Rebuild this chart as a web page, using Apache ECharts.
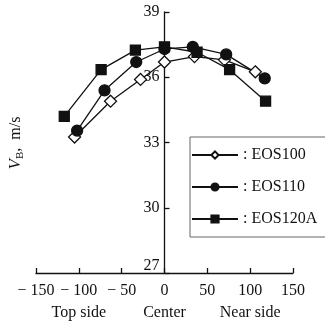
<!DOCTYPE html>
<html><head><meta charset="utf-8">
<script src="https://cdn.jsdelivr.net/npm/echarts@6/dist/echarts.min.js"></script>
<style>html,body{margin:0;padding:0;background:#fff}#c{width:325px;height:321px}</style>
</head><body><div id="c"></div>
<script>
const seriesNames = ['EOS100', 'EOS110', 'EOS120A'];
const eos100X = [-105, -63, -28, 0, 35, 70, 106];
const eos100Y = [33.25, 34.9, 35.9, 36.7, 36.95, 36.8, 36.25];
const eos110X = [-102, -70, -33, 0, 33, 72, 117];
const eos110Y = [33.55, 35.4, 36.7, 37.3, 37.4, 37.05, 35.95];
const eos120X = [-117, -74, -34, 0, 38, 76, 118];
const eos120Y = [34.2, 36.35, 37.25, 37.4, 37.15, 36.35, 34.9];
const sideTicks = [-100, 0, 100];
const sideNames = ['Top side', 'Center', 'Near side'];
const yTicks = [27, 30, 33, 36, 39];

const FONT = 'Liberation Serif';
const pair = (xs, ys) => xs.map((x, i) => [x, ys[i]]);

const chart = echarts.init(document.getElementById('c'), null, {renderer: 'canvas'});
const gridLeft = 36, gridRight = 32;
const plotW = 325 - gridLeft - gridRight;
const lineBase = {
  type: 'line', lineStyle: {color: '#111', width: 1.3},
  itemStyle: {color: '#111', borderColor: '#111', borderWidth: 1.3},
  emphasis: {disabled: true}
};
chart.setOption({
  animation: false,
  backgroundColor: '#fff',
  grid: {left: gridLeft, right: gridRight, top: 12, bottom: 45, containLabel: false},
  xAxis: [{
    type: 'value', min: -150, max: 150, interval: 50,
    axisLine: {onZero: false, lineStyle: {color: '#111', width: 1.3}},
    axisTick: {inside: true, length: 5, lineStyle: {color: '#111', width: 1.3}},
    splitLine: {show: false},
    axisLabel: {
      margin: 10, color: '#111', fontFamily: FONT, fontSize: 16,
      showMinLabel: true, showMaxLabel: true, hideOverlap: false,
      formatter: v => v < 0 ? '\u2212 ' + Math.abs(v) : String(v)
    }
  }, {
    type: 'value', min: -150, max: 150, position: 'bottom', offset: 22,
    axisLine: {show: false}, axisTick: {show: false}, splitLine: {show: false},
    axisLabel: {
      margin: 10, color: '#111', fontFamily: FONT, fontSize: 16,
      customValues: sideTicks,
      formatter: v => sideNames[sideTicks.indexOf(v)] || ''
    }
  }],
  yAxis: {
    type: 'value', min: yTicks[0], max: yTicks[yTicks.length - 1], interval: 3,
    offset: -plotW / 2,
    axisLine: {onZero: false, lineStyle: {color: '#111', width: 1.3}},
    axisTick: {inside: true, length: 5, lineStyle: {color: '#111', width: 1.3}},
    splitLine: {show: false},
    axisLabel: {
      margin: 5, color: '#111', fontFamily: FONT, fontSize: 16,
      showMinLabel: true, showMaxLabel: true, hideOverlap: false,
      formatter: v => v === yTicks[0] ? '{b|' + v + '}' : String(v),
      rich: {b: {fontFamily: FONT, fontSize: 16, color: '#111', padding: [0, 0, 14, 0]}}
    }
  },
  legend: {
    orient: 'vertical', left: 190, top: 137,
    data: seriesNames,
    itemWidth: 46, itemHeight: 9, itemGap: 16,
    padding: [10, 30, 10, 1],
    borderColor: '#666', borderWidth: 1,
    formatter: n => ': ' + n,
    textStyle: {fontFamily: FONT, fontSize: 16, color: '#111'},
    selectedMode: false
  },
  graphic: [{
    type: 'text', x: 16, y: 143, rotation: Math.PI / 2,
    style: {
      text: '{v|V}{s|B}{n|,  m/s}',
      align: 'center', verticalAlign: 'middle',
      rich: {
        v: {fontFamily: FONT, fontStyle: 'italic', fontSize: 17, fill: '#111'},
        s: {fontFamily: FONT, fontSize: 11, fill: '#111', padding: [8, 0, 0, 0]},
        n: {fontFamily: FONT, fontSize: 16, fill: '#111'}
      }
    }
  }],
  series: [
    Object.assign({}, lineBase, {name: seriesNames[0], data: pair(eos100X, eos100Y),
      symbol: 'diamond', symbolSize: 12,
      itemStyle: {color: '#fff', borderColor: '#111', borderWidth: 1.3}}),
    Object.assign({}, lineBase, {name: seriesNames[1], data: pair(eos110X, eos110Y),
      symbol: 'circle', symbolSize: 11}),
    Object.assign({}, lineBase, {name: seriesNames[2], data: pair(eos120X, eos120Y),
      symbol: 'rect', symbolSize: 10})
  ]
});
</script></body></html>
